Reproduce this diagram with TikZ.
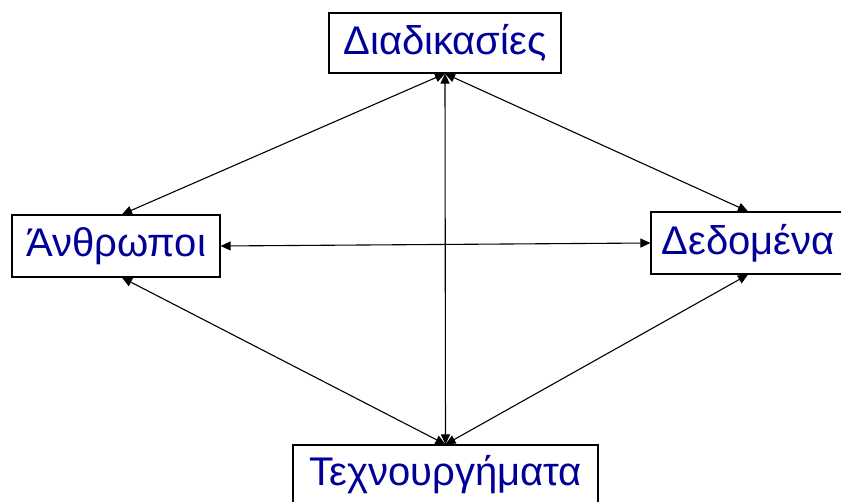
\documentclass[tikz,border=0pt]{standalone}
\usepackage{fontspec}
\setmainfont{Liberation Sans}
\usetikzlibrary{arrows.meta}
\definecolor{txtblue}{RGB}{0,0,153}
\begin{document}
\begin{tikzpicture}[x=1pt,y=-1pt,
  box/.style={draw=black,line width=1.2pt,fill=white,text=txtblue,inner sep=0pt,
    font=\fontsize{40}{44}\selectfont,anchor=center},
  link/.style={line width=1.1pt,{Triangle[length=10pt,width=9pt]}-{Triangle[length=10pt,width=9pt]}}]
\useasboundingbox (0,0) rectangle (841,502);
\clip (0,0) rectangle (841,502);
\node[box,minimum width=232pt,minimum height=60pt] (proc) at (445,43) {Διαδικασίες};
\node[box,minimum width=208pt,minimum height=62pt] (people) at (116,246) {Άνθρωποι};
\node[box,minimum width=194pt,minimum height=62pt] (data) at (748,243) {Δεδομένα};
\node[box,minimum width=305pt,minimum height=60pt] (art) at (445.5,475) {Τεχνουργήματα};
\draw[link] (proc.south) -- ([xshift=6pt]people.north);
\draw[link] (proc.south) -- (data.north);
\draw[link] (proc.south) -- (art.north);
\draw[link] (people.east) -- (data.west);
\draw[link] ([xshift=6pt]people.south) -- (art.north);
\draw[link] (data.south) -- (art.north);
\end{tikzpicture}
\end{document}
